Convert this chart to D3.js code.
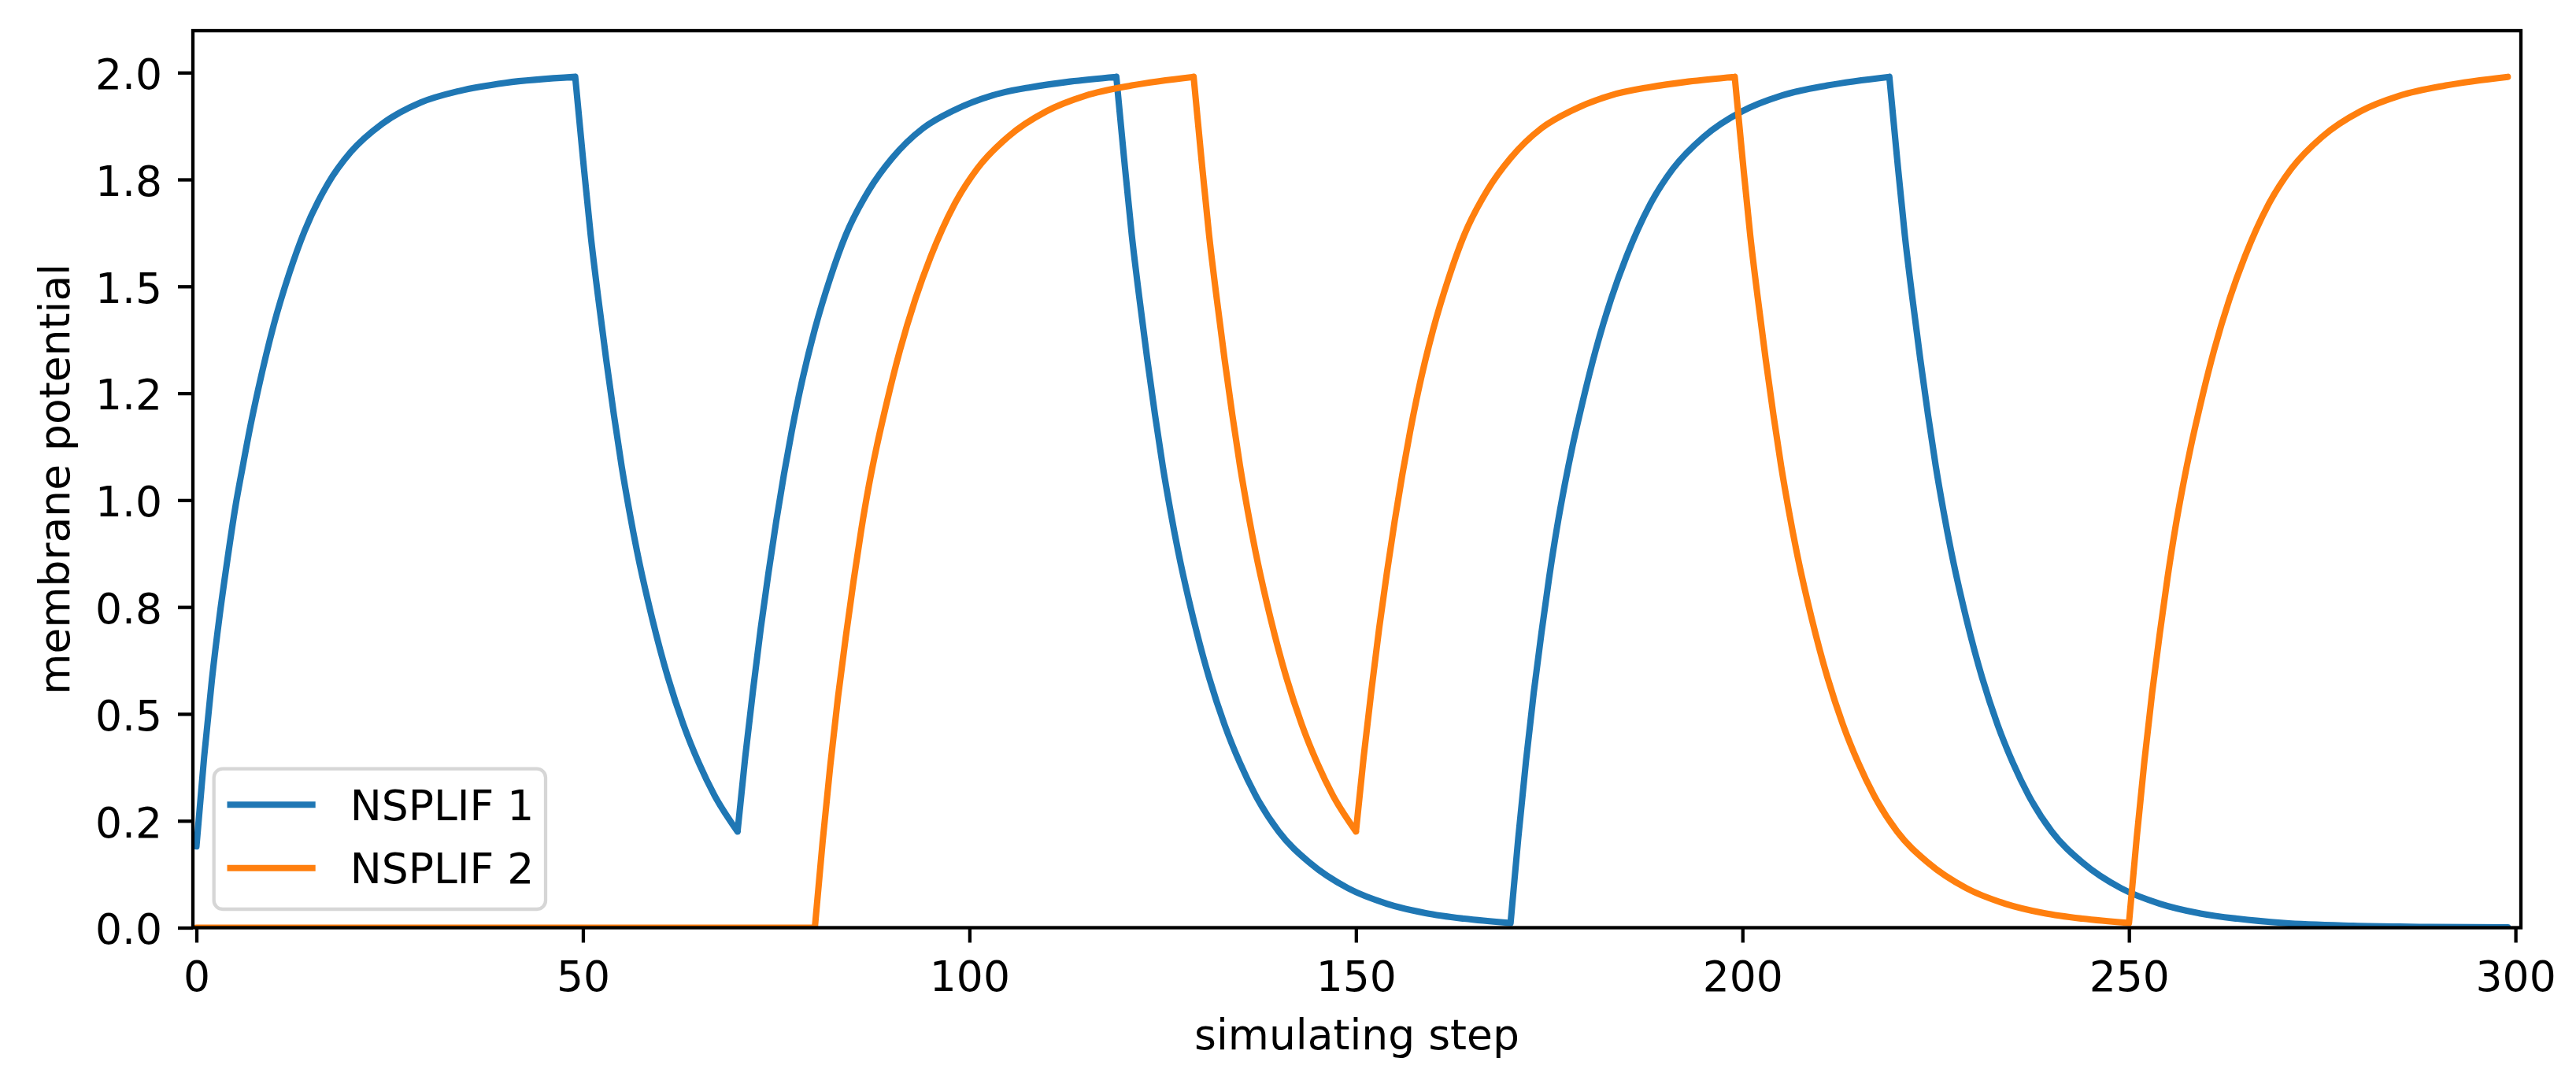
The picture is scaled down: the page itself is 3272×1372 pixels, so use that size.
<!DOCTYPE html>
<html>
<head>
<meta charset="utf-8">
<script src="https://cdn.jsdelivr.net/npm/d3@7"></script>
<style>
  html, body { margin: 0; padding: 0; background: #fff; }
  text { font-family: "DejaVu Sans", sans-serif; }
</style>
</head>
<body>
<div id="chart"></div>
<script>
// values (step -> membrane potential)
const nsplif1Steps = [
  0, 1, 2, 3, 4, 5, 6, 7, 8, 10, 12, 14, 17, 20, 24, 29, 34, 40, 49,
  50, 51, 52, 53, 54, 55, 56, 57, 59, 61, 63, 65, 67, 70,
  71, 72, 73, 74, 75, 76, 77, 78, 80, 82, 84, 87, 90, 94, 98, 103, 108, 113, 119,
  120, 121, 122, 123, 124, 125, 126, 127, 129, 131, 133, 135, 137, 140, 144, 149, 154, 159, 164, 170,
  171, 172, 173, 174, 175, 176, 177, 178, 179, 181, 183, 185, 188, 191, 195, 200, 205, 211, 219,
  220, 221, 222, 223, 224, 225, 226, 227, 229, 231, 233, 235, 237, 240, 244, 249, 254, 259, 264, 270, 279, 289, 299];
const nsplif1Values = [
  0.19, 0.40, 0.58, 0.73, 0.86, 0.98, 1.08, 1.175, 1.26, 1.41, 1.53, 1.63, 1.74, 1.815, 1.88, 1.93, 1.957, 1.976, 1.99,
  1.80, 1.62, 1.47, 1.33, 1.20, 1.08, 0.975, 0.88, 0.72, 0.585, 0.475, 0.385, 0.31, 0.225,
  0.40, 0.555, 0.70, 0.83, 0.95, 1.06, 1.16, 1.25, 1.40, 1.52, 1.62, 1.725, 1.80, 1.87, 1.912, 1.947, 1.966, 1.979, 1.99,
  1.80, 1.62, 1.47, 1.33, 1.20, 1.08, 0.975, 0.88, 0.72, 0.585, 0.475, 0.385, 0.31, 0.225, 0.152, 0.092, 0.056, 0.034, 0.021, 0.011,
  0.21, 0.39, 0.55, 0.69, 0.82, 0.935, 1.035, 1.125, 1.205, 1.35, 1.47, 1.57, 1.69, 1.775, 1.85, 1.91, 1.946, 1.97, 1.99,
  1.80, 1.62, 1.47, 1.33, 1.20, 1.08, 0.975, 0.88, 0.72, 0.585, 0.475, 0.385, 0.31, 0.225, 0.152, 0.092, 0.056, 0.034, 0.021, 0.011, 0.0045, 0.0017, 0.0006];

const nsplif2Steps = [
  0, 80,
  81, 82, 83, 84, 85, 86, 87, 88, 89, 91, 93, 95, 98, 101, 105, 110, 115, 121, 129,
  130, 131, 132, 133, 134, 135, 136, 137, 139, 141, 143, 145, 147, 150,
  151, 152, 153, 154, 155, 156, 157, 158, 160, 162, 164, 167, 170, 174, 178, 183, 188, 193, 199,
  200, 201, 202, 203, 204, 205, 206, 207, 209, 211, 213, 215, 217, 220, 224, 229, 234, 239, 244, 250,
  251, 252, 253, 254, 255, 256, 257, 258, 259, 261, 263, 265, 268, 271, 275, 280, 285, 291, 299];
const nsplif2Values = [
  0, 0,
  0.20, 0.38, 0.54, 0.68, 0.81, 0.93, 1.035, 1.125, 1.205, 1.35, 1.47, 1.57, 1.69, 1.775, 1.85, 1.91, 1.946, 1.97, 1.99,
  1.80, 1.62, 1.47, 1.33, 1.20, 1.08, 0.975, 0.88, 0.72, 0.585, 0.475, 0.385, 0.31, 0.225,
  0.40, 0.555, 0.70, 0.83, 0.95, 1.06, 1.16, 1.25, 1.40, 1.52, 1.62, 1.725, 1.80, 1.87, 1.912, 1.947, 1.966, 1.979, 1.99,
  1.80, 1.62, 1.47, 1.33, 1.20, 1.08, 0.975, 0.88, 0.72, 0.585, 0.475, 0.385, 0.31, 0.225, 0.152, 0.092, 0.056, 0.034, 0.021, 0.011,
  0.21, 0.39, 0.55, 0.69, 0.82, 0.935, 1.035, 1.125, 1.205, 1.35, 1.47, 1.57, 1.69, 1.775, 1.85, 1.91, 1.946, 1.97, 1.99];

const seriesNames = ["NSPLIF 1", "NSPLIF 2"];
const seriesColors = ["#1f77b4", "#ff7f0e"];
const xTicks = [0, 50, 100, 150, 200, 250, 300];
const yTicks = [0, 0.25, 0.5, 0.75, 1.0, 1.25, 1.5, 1.75, 2.0];
const yTickLabels = ["0.0", "0.2", "0.5", "0.8", "1.0", "1.2", "1.5", "1.8", "2.0"];

const WIDTH = 3272;
const HEIGHT = 1372;
const MARGIN = { top: 39, right: 70, bottom: 193.5, left: 245 };
const FONT = 53.5;
const TICK = 19;
const SPINE = 4.3;
const LINE_W = 8.1;

class PotentialChart {
  svg = null;
  plot = null;
  width = WIDTH - MARGIN.left - MARGIN.right;
  height = HEIGHT - MARGIN.top - MARGIN.bottom;
  series = [];

  select(id) {
    this.svg = d3.select(id).append("svg")
      .attr("width", WIDTH)
      .attr("height", HEIGHT)
      .style("display", "block");
    this.svg.append("rect").attr("width", WIDTH).attr("height", HEIGHT).attr("fill", "#fff");
    this.plot = this.svg.append("g")
      .attr("transform", "translate(" + MARGIN.left + "," + MARGIN.top + ")");
    return this;
  }

  data(list) {
    this.series = list;
    return this;
  }

  draw() {
    const x = d3.scaleLinear().domain([-0.46, 300.7]).range([0, this.width]);
    const y = d3.scaleLinear().domain([0, 2.098]).range([this.height, 0]);

    this.plot.append("clipPath").attr("id", "plot-clip")
      .append("rect").attr("width", this.width).attr("height", this.height);

    const line = d3.line()
      .x(d => x(d.step))
      .y(d => y(d.value))
      .curve(d3.curveMonotoneX);

    // each rise / fall is its own smooth piece so the spikes stay sharp
    this.plot.append("g").attr("clip-path", "url(#plot-clip)")
      .selectAll("path")
      .data(this.series)
      .join("path")
      .attr("d", d => this.#pieces(d.points).map(p => line(p)).join(""))
      .attr("fill", "none")
      .attr("stroke", d => d.color)
      .attr("stroke-width", LINE_W)
      .attr("stroke-linejoin", "round")
      .attr("stroke-linecap", "round");

    // x axis
    const xAxis = this.plot.append("g")
      .attr("transform", "translate(0," + this.height + ")")
      .call(d3.axisBottom(x).tickValues(xTicks).tickFormat(d3.format("d")).tickSize(TICK).tickPadding(24));
    this.#styleAxis(xAxis);

    // y axis
    const yAxis = this.plot.append("g")
      .call(d3.axisLeft(y).tickValues(yTicks).tickFormat((d, i) => yTickLabels[i]).tickSize(TICK).tickPadding(20));
    this.#styleAxis(yAxis);
    yAxis.selectAll("text").attr("dy", "0.38em");

    // spines on top of the lines
    this.plot.append("rect")
      .attr("width", this.width)
      .attr("height", this.height)
      .attr("fill", "none")
      .attr("stroke", "#000")
      .attr("stroke-width", SPINE);

    // axis titles
    this.svg.append("text")
      .attr("x", MARGIN.left + this.width / 2)
      .attr("y", 1333)
      .attr("text-anchor", "middle")
      .attr("font-size", FONT)
      .text("simulating step");

    this.svg.append("text")
      .attr("transform", "translate(88," + (MARGIN.top + this.height / 2) + ") rotate(-90)")
      .attr("text-anchor", "middle")
      .attr("font-size", FONT)
      .text("membrane potential");

    this.#legend();
  }

  #pieces(points) {
    const out = [];
    let cur = [points[0]];
    let dir = 0;
    for (let i = 1; i < points.length; i++) {
      const d = Math.sign(points[i].value - points[i - 1].value);
      if (cur.length > 1 && d !== dir) {
        out.push(cur);
        cur = [points[i - 1]];
      }
      cur.push(points[i]);
      dir = d;
    }
    out.push(cur);
    return out;
  }

  #styleAxis(g) {
    g.select(".domain").remove();
    g.selectAll(".tick line").attr("stroke", "#000").attr("stroke-width", SPINE);
    g.selectAll("text")
      .attr("fill", "#000")
      .attr("font-size", FONT)
      .attr("font-family", "'DejaVu Sans', sans-serif");
  }

  #legend() {
    const lg = this.svg.append("g").attr("transform", "translate(271.7,976.7)");
    lg.append("rect")
      .attr("width", 421.3)
      .attr("height", 178.3)
      .attr("rx", 11)
      .attr("ry", 11)
      .attr("fill", "#fff")
      .attr("fill-opacity", 0.8)
      .attr("stroke", "#d6d6d6")
      .attr("stroke-width", SPINE);

    const rows = lg.selectAll("g.row")
      .data(this.series)
      .join("g")
      .attr("class", "row")
      .attr("transform", (d, i) => "translate(0," + (45.6 + i * 80.4) + ")");
    rows.append("line")
      .attr("x1", 16.8).attr("x2", 129)
      .attr("stroke", d => d.color)
      .attr("stroke-width", LINE_W);
    rows.append("text")
      .attr("x", 173)
      .attr("y", 19.4)
      .attr("font-size", FONT)
      .attr("fill", "#000")
      .text(d => d.name);
  }
}

const toPoints = (steps, values) => steps.map((s, i) => ({ step: s, value: values[i] }));

new PotentialChart()
  .select("#chart")
  .data([
    { name: seriesNames[0], color: seriesColors[0], points: toPoints(nsplif1Steps, nsplif1Values) },
    { name: seriesNames[1], color: seriesColors[1], points: toPoints(nsplif2Steps, nsplif2Values) }
  ])
  .draw();
</script>
</body>
</html>
